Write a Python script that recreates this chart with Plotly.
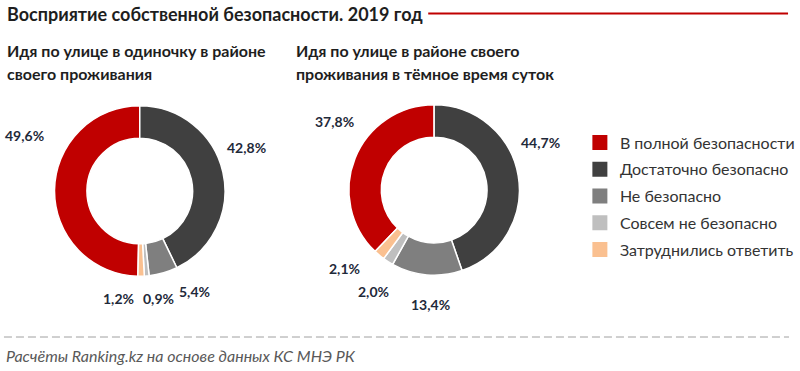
import plotly.graph_objects as go

categories = ["В полной безопасности", "Достаточно безопасно", "Не безопасно",
              "Совсем не безопасно", "Затруднились ответить"]
alone_values = [49.6, 42.8, 5.4, 0.9, 1.2]
dark_values = [37.8, 44.7, 13.4, 2.0, 2.1]
colors = ["#C00000", "#404040", "#7F7F7F", "#BFBFBF", "#FAC090"]

title_text = "Восприятие собственной безопасности. 2019 год"
subtitle_alone = ["Идя по улице в одиночку в районе", "своего проживания"]
subtitle_dark = ["Идя по улице в районе своего", "проживания в тёмное время суток"]
source_text = "Расчёты Ranking.kz на основе данных КС МНЭ РК"

# layout: label positions (pixel centres) for each slice, same order as categories
alone_label_pos = [(25, 135), (249, 147), (196, 291), (160, 298), (120, 298)]
dark_label_pos = [(337, 121), (545, 143), (434, 304), (377, 291), (348, 268)]

W, H = 800, 371
FONT = "Lato, 'Open Sans', sans-serif"


def fmt(v):
    return f"{v:.1f}".replace(".", ",") + "%"


def px(x):
    return x / W


def py(y):
    return 1 - y / H


def pie(values, cx, cy, r):
    total = sum(values)
    return go.Pie(
        labels=categories,
        values=values,
        textinfo="none",
        hole=0.62,
        sort=False,
        direction="clockwise",
        rotation=-360 * values[0] / total,
        marker=dict(colors=colors, line=dict(color="white", width=1.5)),
        domain=dict(x=[px(cx - r), px(cx + r)], y=[py(cy + r), py(cy - r)]),
        showlegend=False,
        hoverinfo="label+percent",
    )


fig = go.Figure()
fig.add_trace(pie(alone_values, 141, 191, 86))
fig.add_trace(pie(dark_values, 438, 190, 86))

for i, (name, col) in enumerate(zip(categories, colors)):
    fig.add_trace(go.Scatter(
        x=[None], y=[None], mode="markers", name=name,
        marker=dict(symbol="square", size=15, color=col),
        legendgroup=f"g{i}", showlegend=True, hoverinfo="skip",
    ))

annotations = [
    dict(text=f"<b>{title_text}</b>", x=px(5), y=py(14), xanchor="left", yanchor="middle",
         font=dict(family=FONT, size=18, color="#1E1E1E")),
    dict(text=f"<i>{source_text}</i>", x=px(4), y=py(355), xanchor="left", yanchor="middle",
         font=dict(family=FONT, size=16, color="#595959")),
]
for j, line in enumerate(subtitle_alone):
    annotations.append(dict(text=f"<b>{line}</b>", x=px(5), y=py(50 + 23 * j),
                            xanchor="left", yanchor="middle",
                            font=dict(family=FONT, size=16, color="#1E1E1E")))
for j, line in enumerate(subtitle_dark):
    annotations.append(dict(text=f"<b>{line}</b>", x=px(297), y=py(50 + 23 * j),
                            xanchor="left", yanchor="middle",
                            font=dict(family=FONT, size=16, color="#1E1E1E")))
for values, positions in ((alone_values, alone_label_pos), (dark_values, dark_label_pos)):
    for v, (lx, ly) in zip(values, positions):
        annotations.append(dict(text=f"<b>{fmt(v)}</b>", x=px(lx), y=py(ly),
                                xanchor="center", yanchor="middle",
                                font=dict(family=FONT, size=14, color="#1F2A3A")))
for a in annotations:
    a.update(xref="paper", yref="paper", showarrow=False, align="left")

fig.update_layout(
    width=W, height=H,
    margin=dict(l=0, r=0, t=0, b=0),
    paper_bgcolor="white", plot_bgcolor="white",
    font=dict(family=FONT, color="#333333"),
    xaxis=dict(visible=False, domain=[0.9, 0.95]),
    yaxis=dict(visible=False, domain=[0.9, 0.95]),
    legend=dict(
        x=px(585), y=py(125.5), xanchor="left", yanchor="top",
        font=dict(family=FONT, size=16, color="#333333"),
        tracegroupgap=3, bgcolor="rgba(0,0,0,0)",
    ),
    annotations=annotations,
    shapes=[
        dict(type="line", xref="paper", yref="paper", x0=px(432), x1=px(795),
             y0=py(13.5), y1=py(13.5), line=dict(color="#C00000", width=2)),
        dict(type="line", xref="paper", yref="paper", x0=px(4), x1=px(796),
             y0=py(337), y1=py(337), line=dict(color="#A0A0A0", width=1, dash="8px,4px")),
    ],
)

fig.write_html("out.html", config={"displayModeBar": False},
               post_script="document.body.style.margin='0';")
